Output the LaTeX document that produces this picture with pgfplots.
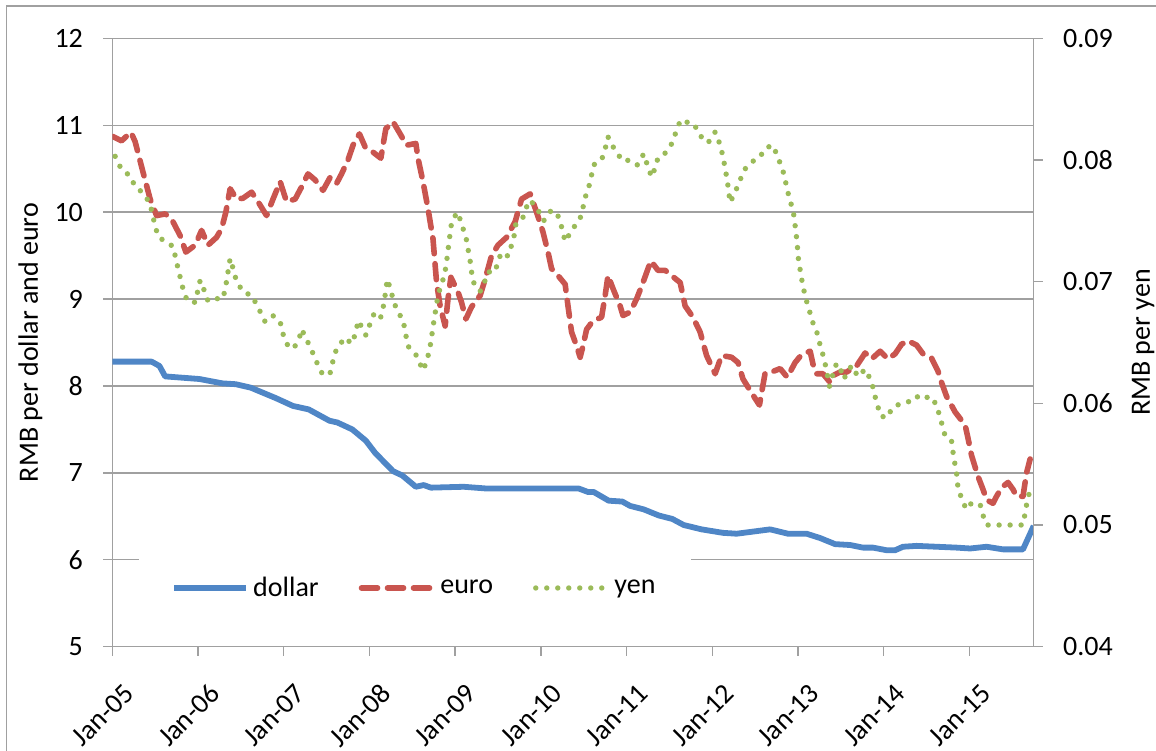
\documentclass[border=0pt]{standalone}
\usepackage{fontspec}
\setmainfont{Carlito}
\usepackage{pgfplots}
\pgfplotsset{compat=1.18}

\definecolor{usdblue}{HTML}{4F86C6}
\definecolor{eurred}{HTML}{C9554F}
\definecolor{yengreen}{HTML}{9BBB59}
\definecolor{axgray}{HTML}{A0A0A0}
\newcommand\chartfont{\fontsize{14}{16}\selectfont}

% x = months after Jan-05
\pgfplotstableread{
m rate
0 8.28
5.5 8.28
6.6 8.23
7.4 8.11
12.2 8.08
15.4 8.03
17.3 8.02
19.4 7.98
22.9 7.86
25.3 7.77
27.5 7.73
30.4 7.60
31.5 7.58
33.6 7.50
35.5 7.37
36.8 7.23
39.3 7.02
40.6 6.97
42.5 6.84
43.6 6.86
44.6 6.83
49.2 6.84
52.4 6.82
57.2 6.82
65.3 6.82
66.6 6.78
67.4 6.78
69.5 6.68
71.4 6.67
72.5 6.62
74.4 6.58
76.5 6.51
78.4 6.47
80.0 6.40
82.5 6.35
85.5 6.31
87.4 6.30
89.3 6.32
92.1 6.35
94.6 6.30
97.2 6.30
99.1 6.25
101.2 6.18
103.3 6.17
105.1 6.14
106.5 6.14
108.4 6.11
109.6 6.11
110.7 6.15
112.6 6.16
115.4 6.15
118.2 6.14
120.1 6.13
122.4 6.15
124.7 6.12
127.5 6.12
129 6.39
}\dollar

\pgfplotstableread{
m rate
0.1 10.87
1.3 10.82
2.6 10.92
3.2 10.81
4.3 10.46
5.3 10.15
6.2 9.96
7.4 9.98
8.3 9.92
9.5 9.73
10.3 9.54
11.6 9.62
12.5 9.79
13.4 9.62
14.6 9.71
15.3 9.81
15.9 10.00
16.5 10.27
17.4 10.15
18.3 10.16
19.5 10.23
20.4 10.12
21.6 9.96
22.5 10.15
23.5 10.35
24.4 10.12
25.6 10.15
26.5 10.29
27.4 10.44
28.4 10.37
29.5 10.25
30.5 10.40
31.4 10.33
32.1 10.44
33.0 10.60
33.7 10.77
34.6 10.90
35.4 10.75
36.5 10.69
37.6 10.62
37.9 10.77
38.3 10.96
39.3 11.04
40.3 10.90
41.2 10.77
42.5 10.79
42.8 10.62
43.5 10.35
44.2 10.04
44.9 9.69
45.4 9.19
45.9 8.92
46.6 8.69
47.0 9.00
47.4 9.25
48.4 9.08
48.9 8.96
49.5 8.77
50.3 8.91
51.5 9.04
52.2 9.23
53.1 9.50
54.0 9.62
55.2 9.71
56.4 9.89
57.3 10.15
58.5 10.21
59.4 10.00
60.3 9.77
61.0 9.54
61.5 9.35
62.4 9.27
63.4 9.17
63.8 8.92
64.3 8.62
65.0 8.46
65.5 8.33
65.9 8.46
66.4 8.65
67.3 8.75
68.5 8.79
69.0 9.04
69.4 9.27
70.1 9.12
71.1 8.92
71.5 8.81
72.5 8.85
73.4 9.00
74.3 9.19
75.4 9.44
76.4 9.33
77.4 9.33
78.3 9.27
79.5 9.19
80.2 8.92
81.3 8.79
82.3 8.62
83.2 8.35
84.4 8.14
85.3 8.35
86.7 8.33
87.6 8.27
88.3 8.08
89.5 7.92
90.6 7.78
90.9 7.92
91.4 8.15
92.3 8.16
93.5 8.20
94.5 8.10
95.6 8.27
96.5 8.36
97.7 8.40
98.1 8.25
98.6 8.14
99.5 8.14
100.5 8.04
100.9 8.12
101.9 8.16
102.8 8.16
104.2 8.23
105.4 8.38
106.3 8.31
107.5 8.40
108.6 8.31
109.6 8.37
110.5 8.48
111.4 8.52
112.6 8.47
113.5 8.37
114.7 8.32
115.6 8.17
116.1 8.04
116.8 7.88
118.0 7.70
119.4 7.55
119.8 7.40
120.3 7.20
121.2 6.96
121.9 6.81
122.4 6.69
123.3 6.65
123.8 6.73
124.5 6.83
125.4 6.89
126.1 6.81
126.6 6.73
127.5 6.73
128.0 7.00
128.5 7.16
}\euro

\pgfplotstableread{
m rate
0.4 0.0803
1.3 0.0792
2.5 0.0787
3.2 0.0778
4.3 0.0773
5.3 0.0764
5.7 0.0753
6.4 0.0737
7.4 0.0733
8.5 0.0729
9.2 0.0711
9.9 0.0694
10.5 0.0684
11.6 0.0683
12.3 0.0701
13.0 0.0691
13.4 0.0684
14.5 0.0686
15.5 0.0686
15.9 0.0697
16.5 0.0719
16.9 0.0711
17.4 0.0700
18.4 0.0691
19.5 0.0689
20.4 0.0679
21.4 0.0667
22.5 0.0672
23.5 0.0667
23.9 0.0657
24.6 0.0647
25.4 0.0645
26.2 0.0654
26.5 0.0661
27.4 0.0650
28.1 0.0641
28.6 0.0634
29.5 0.0623
30.5 0.0625
30.9 0.0635
31.4 0.0645
32.6 0.0654
33.5 0.0649
34.1 0.0658
34.4 0.0668
35.1 0.0661
35.5 0.0656
36.0 0.0664
36.6 0.0673
37.5 0.0669
37.9 0.0678
38.2 0.0689
38.5 0.0702
39.0 0.0693
39.4 0.0683
40.2 0.0673
40.7 0.0669
41.0 0.0659
41.4 0.0647
42.5 0.0640
43.2 0.0631
43.5 0.0627
44.1 0.0636
44.6 0.0650
44.9 0.0663
45.2 0.0674
45.5 0.0685
45.9 0.0695
46.5 0.0705
46.8 0.0716
47.0 0.0726
47.2 0.0735
47.4 0.0745
47.7 0.0752
48.4 0.0757
48.9 0.0747
49.5 0.0737
49.8 0.0727
50.1 0.0717
50.3 0.0708
50.5 0.0700
51.5 0.0692
52.2 0.0701
52.6 0.0708
53.6 0.0708
54.0 0.0717
54.5 0.0724
55.4 0.0721
55.9 0.0730
56.4 0.0741
56.5 0.0748
57.5 0.0753
58.1 0.0763
58.5 0.0767
59.5 0.0760
60.4 0.0750
61.5 0.0759
62.4 0.0754
62.9 0.0745
63.4 0.0733
64.3 0.0742
65.5 0.0752
65.9 0.0761
66.3 0.0771
66.6 0.0775
67.0 0.0785
67.4 0.0796
68.5 0.0800
69.0 0.0809
69.4 0.0819
70.1 0.0811
70.5 0.0807
71.5 0.0799
72.5 0.0800
73.5 0.0796
74.4 0.0805
74.9 0.0796
75.5 0.0786
76.1 0.0795
76.4 0.0802
77.5 0.0806
78.5 0.0815
79.0 0.0825
79.6 0.0833
80.5 0.0831
81.4 0.0830
82.3 0.0820
83.4 0.0814
84.4 0.0823
85.0 0.0814
85.5 0.0803
85.8 0.0793
86.1 0.0783
86.5 0.0765
87.3 0.0775
88.0 0.0785
88.5 0.0792
89.4 0.0798
90.6 0.0802
91.5 0.0810
92.5 0.0812
93.2 0.0802
93.9 0.0791
94.3 0.0781
94.8 0.0768
95.3 0.0759
95.5 0.0751
95.7 0.0741
95.9 0.0731
96.0 0.0721
96.4 0.0706
96.7 0.0696
97.1 0.0686
97.6 0.0676
98.1 0.0666
98.5 0.0662
98.9 0.0652
99.4 0.0642
99.9 0.0630
100.4 0.0614
100.9 0.0624
101.4 0.0633
102.1 0.0626
102.4 0.0620
103.5 0.0631
104.4 0.0622
105.4 0.0628
106.2 0.0619
106.5 0.0613
106.9 0.0603
107.4 0.0593
107.5 0.0590
108.4 0.0588
109.3 0.0597
110.5 0.0600
111.4 0.0601
112.5 0.0606
113.5 0.0603
114.4 0.0606
115.4 0.0599
115.8 0.0590
116.3 0.0580
116.6 0.0573
117.5 0.0569
117.7 0.0560
118.0 0.0549
118.3 0.0539
118.4 0.0529
119.1 0.0520
119.5 0.0513
120.3 0.0518
121.5 0.0517
121.9 0.0508
122.4 0.0500
127.5 0.0500
127.8 0.0510
128.1 0.0520
128.5 0.0529
}\yen

\begin{document}
\begin{tikzpicture}
\begin{axis}[
  name=main,
  scale only axis, width=460.7pt, height=304.2pt,
  xmin=0, xmax=129, ymin=5, ymax=12,
  xtick={0,12,...,120},
  xticklabels={Jan-05,Jan-06,Jan-07,Jan-08,Jan-09,Jan-10,Jan-11,Jan-12,Jan-13,Jan-14,Jan-15},
  ytick={5,6,...,12},
  /pgf/number format/assume math mode=true,
  ymajorgrids, grid style={axgray, line width=0.7pt},
  axis line style={axgray, line width=0.7pt},
  tick style={axgray, line width=0.7pt},
  tick align=outside, major tick length=4.5pt,
  xtick pos=left, ytick pos=left,
  yticklabel style={font=\chartfont, text=black, inner sep=0pt, xshift=-10pt},
  xticklabel style={font=\chartfont, text=black, inner sep=0pt, xshift=5pt, yshift=-13pt, rotate=45, anchor=north east},
  ylabel={RMB per dollar and euro},
  every axis y label/.style={at={(axis description cs:-0.089,0.5)}, rotate=90, anchor=center, font=\chartfont},
  legend style={at={(axis description cs:0.329,0.0965)}, anchor=center, draw=none, fill=white,
    legend columns=3, font=\chartfont, inner xsep=16pt, inner ysep=9pt,
    /tikz/every even column/.append style={column sep=18pt}},
  legend image code/.code={\draw[#1] (0pt,0pt) -- (36pt,0pt);},
  legend cell align=left,
]
\addplot[usdblue, line width=2.9pt, line join=round] table[x=m, y=rate] {\dollar};
\addlegendentry{dollar}
\addplot[eurred, line width=2.8pt, line cap=round, line join=round, dash pattern=on 8pt off 5pt] table[x=m, y=rate] {\euro};
\addlegendentry{euro}
\addlegendimage{yengreen, line width=2.7pt, line cap=round, dash pattern=on 0pt off 5.5pt}
\addlegendentry{yen}
\end{axis}
\begin{axis}[
  scale only axis, width=460.7pt, height=304.2pt,
  at={(main.south west)}, anchor=south west,
  xmin=0, xmax=129, ymin=0.04, ymax=0.09,
  ytick={0.04,0.05,0.06,0.07,0.08,0.09},
  scaled y ticks=false,
  /pgf/number format/assume math mode=true,
  yticklabel style={font=\chartfont, text=black, inner sep=0pt, xshift=10pt,
    /pgf/number format/fixed, /pgf/number format/precision=2, /pgf/number format/fixed zerofill},
  axis x line=none, axis y line*=right,
  axis line style={axgray, line width=0.7pt},
  tick style={axgray, line width=0.7pt},
  tick align=outside, major tick length=4.5pt,
  ylabel={RMB per yen},
  every axis y label/.style={at={(axis description cs:1.1187,0.5)}, rotate=90, anchor=center, font=\chartfont},
]
\addplot[yengreen, line width=2.7pt, line cap=round, line join=round, dash pattern=on 0pt off 5.5pt] table[x=m, y=rate] {\yen};
\end{axis}
\pgfresetboundingbox
\useasboundingbox ([shift={(-56.15pt,-51.65pt)}]main.south west) rectangle ([shift={(521.85pt,323.35pt)}]main.south west);
\draw[axgray, line width=0.8pt] ([shift={(-52.8pt,-60pt)}]main.south west) -- ([shift={(-52.8pt,320.35pt)}]main.south west) -- ([shift={(530pt,320.35pt)}]main.south west);
\end{tikzpicture}
\end{document}
